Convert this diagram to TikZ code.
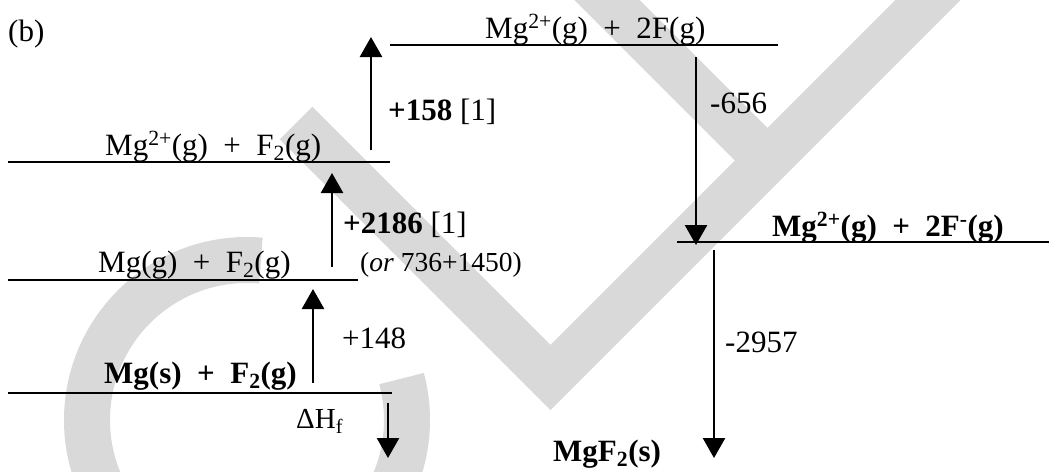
\documentclass[tikz,border=0pt]{standalone}
\usepackage{fontspec}
\setmainfont{Liberation Serif}
\usetikzlibrary{arrows.meta}
\begin{document}
\begin{tikzpicture}[x=1pt,y=-1pt,
  lvl/.style={line width=2pt},
  arr/.style={line width=2.6pt,-{Triangle[length=20pt,width=22pt]}},
  lab/.style={inner sep=0pt,anchor=base west,font=\fontsize{31}{36}\selectfont},
  small/.style={font=\fontsize{27.5}{32}\selectfont},
  wm/.style={line width=46pt,draw=black!15}]
\useasboundingbox (0,0) rectangle (1049,471);
% watermark
\begin{scope}
\clip (0,0) rectangle (1049,471);
\draw[wm] (296,123) -- (550.5,377.5) -- (978,-50);
\draw[wm] (557,-50) -- (767.5,160.5);
\draw[wm] (247,420) ++(-85:160) arc[start angle=-85,end angle=-375,radius=160];
\end{scope}
% energy levels
\coordinate (L1a) at (8,393);   \coordinate (L1b) at (392,393);
\coordinate (L2a) at (8,280);   \coordinate (L2b) at (358,280);
\coordinate (L3a) at (8,162);   \coordinate (L3b) at (390,162);
\coordinate (L4a) at (390,45);  \coordinate (L4b) at (778,45);
\coordinate (L5a) at (677,242); \coordinate (L5b) at (1049,242);
\draw[lvl] (L1a) -- (L1b);
\draw[lvl] (L2a) -- (L2b);
\draw[lvl] (L3a) -- (L3b);
\draw[lvl] (L4a) -- (L4b);
\draw[lvl] (L5a) -- (L5b);
% arrows
\coordinate (a1s) at (313,383); \coordinate (a1e) at (313,289);
\coordinate (a2s) at (332,267); \coordinate (a2e) at (332,173);
\coordinate (a3s) at (371,150); \coordinate (a3e) at (371,37);
\coordinate (a4s) at (696,57);  \coordinate (a4e) at (696,245);
\coordinate (a5s) at (714,250); \coordinate (a5e) at (714,458);
\coordinate (a6s) at (388,403); \coordinate (a6e) at (388,458);
\draw[arr] (a1s) -- (a1e);
\draw[arr] (a2s) -- (a2e);
\draw[arr] (a3s) -- (a3e);
\draw[arr] (a4s) -- (a4e);
\draw[arr] (a5s) -- (a5e);
\draw[arr] (a6s) -- (a6e);
% texts
\node[lab] (tb) at (8,41) {(b)};
\node[lab] (t4) at (485,38) {Mg\textsuperscript{2+}(g)\ \ +\ \ 2F(g)};
\node[lab] (t3) at (105,155) {Mg\textsuperscript{2+}(g)\ \ +\ \ F\textsubscript{2}(g)};
\node[lab] (t2) at (98,272) {Mg(g)\ \ +\ \ F\textsubscript{2}(g)};
\node[lab] (t1) at (104,383) {\bfseries Mg(s)\ \ +\ \ F\textsubscript{2}(g)};
\node[lab] (t5) at (772,236) {\bfseries Mg\textsuperscript{2+}(g)\ \ +\ \ 2F\textsuperscript{-}(g)};
\node[lab] (t158) at (388,120) {\textbf{+158} [1]};
\node[lab] (t656) at (710,113) {-656};
\node[lab] (t2186) at (343,233) {\textbf{+2186} [1]};
\node[lab,small] (tor) at (360,271) {(\textit{or} 736+1450)};
\node[lab] (t148) at (342,348) {+148};
\node[lab,font=\fontsize{29}{34}\selectfont] (tdh) at (296,428) {ΔH\textsubscript{f}};
\node[lab] (t2957) at (725,352) {-2957};
\node[lab] (tmgf) at (553,461) {\bfseries MgF\textsubscript{2}(s)};
\end{tikzpicture}
\end{document}
